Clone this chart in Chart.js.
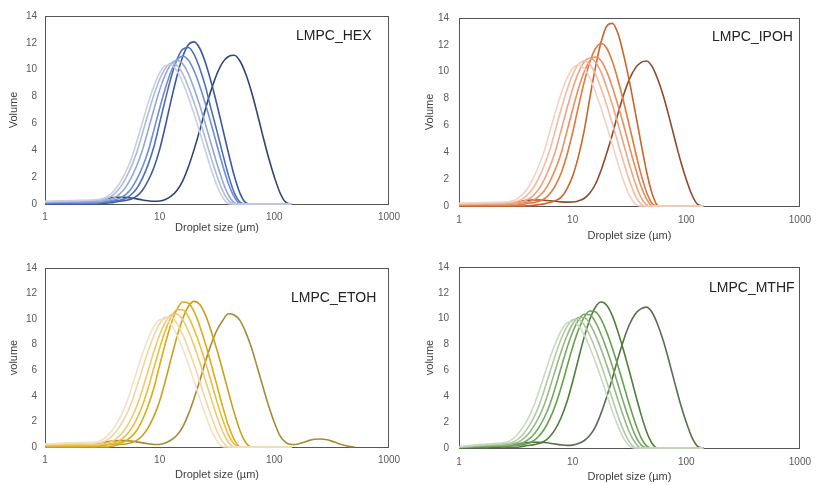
<!DOCTYPE html>
<html>
<head>
<meta charset="utf-8">
<script src="https://cdn.jsdelivr.net/npm/chart.js@4/dist/chart.umd.min.js"></script>
<style>
  html, body { margin: 0; padding: 0; background: #ffffff; }
  .panel { position: absolute; }
</style>
</head>
<body>
<div class="panel" style="left:0px;top:0px"><canvas id="hex" width="410" height="245"></canvas></div>
<div class="panel" style="left:410px;top:0px"><canvas id="ipoh" width="409" height="245"></canvas></div>
<div class="panel" style="left:0px;top:245px"><canvas id="etoh" width="410" height="240"></canvas></div>
<div class="panel" style="left:410px;top:245px"><canvas id="mthf" width="409" height="240"></canvas></div>
<script>
// Droplet size classes (µm), log-spaced
const SIZES = [1, 1.259, 1.585, 1.995, 2.512, 2.818, 3.162, 3.548, 3.981, 4.467,
  5.012, 5.623, 6.31, 7.079, 7.943, 8.913, 10, 11.22, 12.59, 14.13,
  15.85, 17.78, 19.95, 22.39, 25.12, 28.18, 31.62, 35.48, 39.81, 44.67,
  50.12, 56.23, 63.1, 70.79, 79.43, 89.13, 100.2, 112.5, 126.2, 141.6];
// extra coarse classes only measured for the ethanol batch
const ETOH_TAIL_SIZES = [158.5, 177.8, 199.5, 223.9, 251.2, 281.8, 316.2, 354.8, 398.1, 446.7, 501.2];

const X_TICKS = [1, 10, 100, 1000];
const Y_MIN = 0, Y_MAX = 14, Y_STEP = 2;

// ---- LMPC_HEX (volume %) ----
const hex1 = [0.2, 0.22, 0.25, 0.27, 0.3, 0.33, 0.4, 0.59, 0.97, 1.54, 2.31, 3.31, 4.64, 6.09, 7.53, 8.79, 9.77, 10.31, 10.35, 9.92, 9.07, 7.97, 6.7, 5.34, 3.94, 2.58, 1.36, 0.49, 0.03, 0, 0, 0, 0, 0, 0, 0, 0, 0, 0, 0];
const hex2 = [0.18, 0.2, 0.22, 0.24, 0.26, 0.28, 0.3, 0.44, 0.72, 1.17, 1.85, 2.73, 3.84, 5.27, 6.74, 8.14, 9.29, 10.11, 10.48, 10.33, 9.71, 8.72, 7.55, 6.23, 4.82, 3.41, 2.09, 0.98, 0.26, 0, 0, 0, 0, 0, 0, 0, 0, 0, 0, 0];
const hex3 = [0.12, 0.14, 0.15, 0.16, 0.17, 0.18, 0.22, 0.3, 0.45, 0.74, 1.2, 1.92, 2.85, 4.02, 5.52, 7.05, 8.49, 9.64, 10.42, 10.7, 10.44, 9.7, 8.6, 7.33, 5.92, 4.45, 3.0, 1.68, 0.67, 0.1, 0, 0, 0, 0, 0, 0, 0, 0, 0, 0];
const hex4 = [0.08, 0.09, 0.1, 0.1, 0.1, 0.1, 0.15, 0.22, 0.29, 0.42, 0.68, 1.12, 1.83, 2.75, 3.94, 5.52, 7.12, 8.64, 9.87, 10.7, 11.0, 10.73, 9.92, 8.77, 7.42, 5.94, 4.37, 2.86, 1.51, 0.53, 0.02, 0, 0, 0, 0, 0, 0, 0, 0, 0];
const hex5 = [0.05, 0.05, 0.05, 0.05, 0.05, 0.06, 0.1, 0.17, 0.22, 0.28, 0.41, 0.69, 1.16, 1.93, 2.95, 4.28, 6.04, 7.8, 9.44, 10.74, 11.52, 11.65, 11.14, 10.09, 8.72, 7.02, 5.43, 3.73, 2.13, 0.85, 0.14, 0, 0, 0, 0, 0, 0, 0, 0, 0];
const hex6 = [0, 0, 0, 0, 0, 0.02, 0.04, 0.08, 0.12, 0.2, 0.26, 0.36, 0.58, 1.03, 1.75, 2.72, 4.07, 5.83, 7.73, 9.5, 10.95, 11.86, 12.07, 11.58, 10.5, 9.05, 7.39, 5.59, 3.8, 2.12, 0.81, 0.1, 0, 0, 0, 0, 0, 0, 0, 0];
const hex7 = [0, 0, 0, 0.02, 0.1, 0.2, 0.32, 0.42, 0.48, 0.5, 0.49, 0.45, 0.38, 0.3, 0.24, 0.2, 0.22, 0.34, 0.58, 1.0, 1.7, 2.75, 4.05, 5.5, 7.1, 8.5, 9.7, 10.55, 10.98, 11.08, 10.65, 9.7, 8.38, 6.78, 5.07, 3.45, 2.0, 0.8, 0.12, 0];

// ---- LMPC_IPOH ----
const ipoh1 = [0.2, 0.22, 0.25, 0.27, 0.3, 0.34, 0.47, 0.79, 1.26, 2.0, 2.94, 4.1, 5.57, 7.04, 8.4, 9.5, 10.24, 10.5, 10.26, 9.56, 8.51, 7.3, 5.95, 4.54, 3.13, 1.84, 0.79, 0.16, 0, 0, 0, 0, 0, 0, 0, 0, 0, 0, 0, 0];
const ipoh2 = [0.17, 0.19, 0.21, 0.23, 0.25, 0.27, 0.32, 0.49, 0.81, 1.3, 2.05, 3.02, 4.21, 5.72, 7.24, 8.64, 9.77, 10.53, 10.8, 10.55, 9.83, 8.75, 7.51, 6.12, 4.67, 3.22, 1.89, 0.81, 0.16, 0, 0, 0, 0, 0, 0, 0, 0, 0, 0, 0];
const ipoh3 = [0.12, 0.13, 0.14, 0.15, 0.16, 0.19, 0.23, 0.31, 0.46, 0.76, 1.23, 1.97, 2.93, 4.14, 5.68, 7.25, 8.72, 9.91, 10.71, 11.0, 10.74, 9.97, 8.83, 7.54, 6.09, 4.58, 3.08, 1.73, 0.68, 0.1, 0, 0, 0, 0, 0, 0, 0, 0, 0, 0];
const ipoh4 = [0.08, 0.09, 0.1, 0.1, 0.1, 0.12, 0.18, 0.22, 0.29, 0.42, 0.69, 1.13, 1.84, 2.78, 3.97, 5.57, 7.18, 8.71, 9.96, 10.8, 11.1, 10.82, 10.01, 8.85, 7.49, 5.99, 4.41, 2.89, 1.52, 0.53, 0.02, 0, 0, 0, 0, 0, 0, 0, 0, 0];
const ipoh5 = [0.05, 0.05, 0.05, 0.05, 0.05, 0.05, 0.06, 0.1, 0.19, 0.25, 0.34, 0.52, 0.91, 1.55, 2.48, 3.8, 5.47, 7.36, 9.17, 10.68, 11.71, 12.1, 11.75, 10.76, 9.35, 7.73, 5.95, 4.15, 2.43, 1.04, 0.18, 0, 0, 0, 0, 0, 0, 0, 0, 0];
const ipoh6 = [0, 0, 0, 0, 0, 0, 0, 0, 0.02, 0.05, 0.1, 0.16, 0.27, 0.4, 0.66, 1.28, 2.23, 3.66, 5.54, 7.98, 10.28, 12.19, 13.39, 13.6, 12.82, 11.22, 9.28, 7.04, 4.76, 2.59, 0.91, 0.04, 0, 0, 0, 0, 0, 0, 0, 0];
const ipoh7 = [0, 0, 0, 0.02, 0.1, 0.18, 0.28, 0.36, 0.42, 0.45, 0.45, 0.43, 0.39, 0.35, 0.31, 0.29, 0.3, 0.38, 0.56, 0.95, 1.62, 2.65, 3.92, 5.35, 6.9, 8.3, 9.45, 10.25, 10.68, 10.8, 10.38, 9.42, 8.16, 6.6, 4.95, 3.35, 1.95, 0.8, 0.12, 0];

// ---- LMPC_ETOH ----
const etoh1 = [0.25, 0.28, 0.32, 0.35, 0.37, 0.4, 0.57, 0.93, 1.49, 2.23, 3.2, 4.48, 5.89, 7.28, 8.49, 9.44, 9.96, 10.0, 9.59, 8.76, 7.7, 6.48, 5.16, 3.8, 2.49, 1.32, 0.47, 0.03, 0, 0, 0, 0, 0, 0, 0, 0, 0, 0, 0, 0];
const etoh2 = [0.22, 0.24, 0.27, 0.3, 0.32, 0.34, 0.38, 0.61, 0.99, 1.58, 2.35, 3.37, 4.69, 6.12, 7.52, 8.72, 9.64, 10.14, 10.14, 9.67, 8.79, 7.7, 6.45, 5.1, 3.72, 2.4, 1.22, 0.41, 0, 0, 0, 0, 0, 0, 0, 0, 0, 0, 0, 0];
const etoh3 = [0.17, 0.19, 0.2, 0.2, 0.2, 0.22, 0.26, 0.33, 0.52, 0.88, 1.41, 2.19, 3.19, 4.49, 5.98, 7.46, 8.78, 9.77, 10.35, 10.4, 9.95, 9.07, 7.93, 6.63, 5.2, 3.76, 2.38, 1.18, 0.37, 0, 0, 0, 0, 0, 0, 0, 0, 0, 0, 0];
const etoh4 = [0.1, 0.11, 0.12, 0.12, 0.13, 0.16, 0.19, 0.24, 0.32, 0.5, 0.85, 1.4, 2.2, 3.26, 4.62, 6.21, 7.75, 9.12, 10.16, 10.73, 10.73, 10.2, 9.2, 7.97, 6.58, 5.08, 3.53, 2.13, 0.95, 0.24, 0, 0, 0, 0, 0, 0, 0, 0, 0, 0];
const etoh5 = [0.05, 0.05, 0.05, 0.05, 0.05, 0.05, 0.1, 0.18, 0.23, 0.31, 0.46, 0.79, 1.29, 2.13, 3.24, 4.63, 6.4, 8.12, 9.63, 10.76, 11.34, 11.27, 10.6, 9.45, 8.04, 6.46, 4.8, 3.14, 1.66, 0.58, 0.02, 0, 0, 0, 0, 0, 0, 0, 0, 0];
const etoh6 = [0, 0, 0, 0, 0, 0, 0, 0, 0.1, 0.19, 0.24, 0.34, 0.52, 0.9, 1.52, 2.41, 3.6, 5.18, 6.91, 8.6, 10.01, 10.99, 11.39, 11.15, 10.31, 9.04, 7.58, 5.97, 4.29, 2.68, 1.29, 0.35, 0, 0, 0, 0, 0, 0, 0, 0];
const etoh7 = [0, 0, 0, 0.02, 0.12, 0.22, 0.33, 0.42, 0.47, 0.5, 0.5, 0.47, 0.4, 0.32, 0.25, 0.2, 0.2, 0.32, 0.55, 0.92, 1.55, 2.55, 3.8, 5.2, 6.7, 8.05, 9.15, 9.9, 10.42, 10.32, 9.9, 8.98, 7.78, 6.28, 4.73, 3.23, 1.9, 0.85, 0.35, 0.2];
const etoh7Tail = [0.22, 0.35, 0.5, 0.6, 0.62, 0.58, 0.46, 0.3, 0.15, 0.05, 0];

// ---- LMPC_MTHF ----
const mthf1 = [0.1, 0.2, 0.28, 0.34, 0.42, 0.57, 0.91, 1.45, 2.14, 3.08, 4.27, 5.61, 6.96, 8.12, 9.08, 9.67, 9.78, 9.48, 8.77, 7.79, 6.66, 5.43, 4.13, 2.84, 1.67, 0.72, 0.15, 0, 0, 0, 0, 0, 0, 0, 0, 0, 0, 0, 0, 0];
const mthf2 = [0.08, 0.15, 0.22, 0.28, 0.32, 0.38, 0.57, 0.93, 1.48, 2.22, 3.18, 4.46, 5.86, 7.24, 8.45, 9.39, 9.91, 9.95, 9.54, 8.72, 7.66, 6.45, 5.13, 3.78, 2.48, 1.31, 0.47, 0.03, 0, 0, 0, 0, 0, 0, 0, 0, 0, 0, 0, 0];
const mthf3 = [0.06, 0.12, 0.18, 0.22, 0.26, 0.29, 0.38, 0.61, 0.98, 1.57, 2.33, 3.35, 4.67, 6.09, 7.48, 8.68, 9.59, 10.09, 10.09, 9.62, 8.75, 7.66, 6.41, 5.08, 3.7, 2.39, 1.22, 0.41, 0, 0, 0, 0, 0, 0, 0, 0, 0, 0, 0, 0];
const mthf4 = [0.05, 0.1, 0.14, 0.17, 0.2, 0.22, 0.26, 0.36, 0.59, 0.97, 1.55, 2.34, 3.39, 4.75, 6.26, 7.72, 8.95, 9.88, 10.35, 10.3, 9.76, 8.8, 7.63, 6.3, 4.89, 3.46, 2.12, 0.99, 0.26, 0, 0, 0, 0, 0, 0, 0, 0, 0, 0, 0];
const mthf5 = [0.04, 0.08, 0.12, 0.14, 0.15, 0.16, 0.19, 0.24, 0.34, 0.52, 0.89, 1.45, 2.27, 3.34, 4.72, 6.26, 7.8, 9.11, 10.09, 10.6, 10.54, 9.97, 8.96, 7.71, 6.32, 4.84, 3.34, 1.97, 0.84, 0.16, 0, 0, 0, 0, 0, 0, 0, 0, 0, 0];
const mthf6 = [0.02, 0.05, 0.08, 0.1, 0.08, 0.06, 0.05, 0.1, 0.19, 0.24, 0.34, 0.52, 0.89, 1.5, 2.38, 3.57, 5.13, 6.85, 8.52, 9.92, 10.89, 11.29, 11.05, 10.22, 8.96, 7.51, 5.92, 4.25, 2.66, 1.28, 0.35, 0, 0, 0, 0, 0, 0, 0, 0, 0];
const mthf7 = [0, 0, 0, 0.02, 0.1, 0.18, 0.28, 0.36, 0.42, 0.45, 0.45, 0.42, 0.37, 0.3, 0.24, 0.2, 0.22, 0.34, 0.56, 0.96, 1.64, 2.68, 3.97, 5.4, 6.97, 8.38, 9.55, 10.35, 10.76, 10.9, 10.48, 9.52, 8.24, 6.67, 5.0, 3.38, 1.97, 0.8, 0.12, 0];

// line colours, lightest sample first
const HEX_COLORS  = ['#c8cfe1', '#afbbd9', '#93a7d6', '#6f8dd0', '#4d6fc2', '#3b58a3', '#2f4472'];
const IPOH_COLORS = ['#f2d2c6', '#f0bca3', '#eda584', '#ea8f5c', '#e0793a', '#c9652a', '#8c4b2c'];
const ETOH_COLORS = ['#f1e1c9', '#f1d6a2', '#eecb72', '#e8be3e', '#ddab14', '#c9a01c', '#a58b36'];
const MTHF_COLORS = ['#cbd9c3', '#b3c9a7', '#99b88b', '#7ca76a', '#68a04b', '#4f7e3d', '#56704d'];

const FONT = '"Liberation Sans", Arial, sans-serif';

function checkLength(name, arr, n) {
  if (arr.length !== n) throw new Error(name + ' has ' + arr.length + ' values, expected ' + n);
}

function pairs(xs, ys) {
  return xs.map((x, i) => ({ x: x, y: ys[i] }));
}

const framePlugin = {
  id: 'frame',
  beforeDatasetsDraw(chart) {
    const a = chart.chartArea, ctx = chart.ctx;
    ctx.save();
    ctx.strokeStyle = '#555555';
    ctx.lineWidth = 1;
    ctx.strokeRect(Math.round(a.left) + 0.5, Math.round(a.top) + 0.5,
                   Math.round(a.right - a.left) - 1, Math.round(a.bottom - a.top));
    ctx.restore();
  }
};

const tagPlugin = {
  id: 'tag',
  afterDatasetsDraw(chart, args, opts) {
    const ctx = chart.ctx;
    ctx.save();
    ctx.font = '14px ' + FONT;
    ctx.fillStyle = '#222222';
    ctx.textBaseline = 'middle';
    ctx.textAlign = 'left';
    ctx.fillText(opts.text, opts.x, opts.y);
    ctx.restore();
  }
};

function makePanel(p) {
  const canvas = document.getElementById(p.id);
  const W = canvas.width, H = canvas.height;
  const datasets = p.series.map((s, i) => {
    checkLength(p.id + ' series ' + (i + 1), s.values, s.sizes.length);
    return {
      data: pairs(s.sizes, s.values),
      borderColor: p.colors[i],
      backgroundColor: p.colors[i],
      borderWidth: 1.6,
      pointRadius: 0,
      fill: false,
      cubicInterpolationMode: 'monotone',
      clip: 3
    };
  });
  return new Chart(canvas, {
    type: 'line',
    data: { datasets: datasets },
    plugins: [framePlugin, tagPlugin],
    options: {
      responsive: false,
      animation: false,
      devicePixelRatio: 1,
      layout: { padding: { top: p.box.top, right: W - p.box.right, left: 0, bottom: 0 } },
      plugins: {
        legend: { display: false },
        tooltip: { enabled: false },
        tag: { text: p.tag, x: p.tagAt[0], y: p.tagAt[1] }
      },
      scales: {
        x: {
          type: 'logarithmic',
          min: X_TICKS[0],
          max: X_TICKS[X_TICKS.length - 1],
          grid: { display: false, drawTicks: false },
          border: { display: false },
          afterBuildTicks: (scale) => { scale.ticks = X_TICKS.map(v => ({ value: v })); },
          afterFit: (scale) => { scale.height = H - p.box.bottom; },
          ticks: {
            autoSkip: false, maxRotation: 0, padding: p.xTickPad,
            color: '#595959', font: { family: FONT, size: 10 },
            callback: (v) => String(v)
          },
          title: {
            display: true, text: 'Droplet size (µm)', color: '#404040',
            font: { family: FONT, size: 11 }, padding: { top: 0, bottom: p.xTitlePad }
          }
        },
        y: {
          min: Y_MIN, max: Y_MAX,
          grid: { display: false, drawTicks: false },
          border: { display: false },
          afterFit: (scale) => { scale.width = p.box.left; },
          ticks: {
            stepSize: Y_STEP, padding: p.yTickPad,
            color: '#595959', font: { family: FONT, size: 10 }
          },
          title: {
            display: true, text: p.yTitle, color: '#404040',
            font: { family: FONT, size: 11 }, padding: { top: p.yTitlePad, bottom: 0 }
          }
        }
      }
    }
  });
}

const onGrid = (v) => ({ sizes: SIZES, values: v });

makePanel({
  id: 'hex', tag: 'LMPC_HEX', yTitle: 'Volume', colors: HEX_COLORS,
  series: [hex1, hex2, hex3, hex4, hex5, hex6, hex7].map(onGrid),
  box: { left: 45, top: 16, right: 389, bottom: 204 },
  tagAt: [296, 36], xTickPad: 7, xTitlePad: 10, yTickPad: 8, yTitlePad: 7
});
makePanel({
  id: 'ipoh', tag: 'LMPC_IPOH', yTitle: 'Volume', colors: IPOH_COLORS,
  series: [ipoh1, ipoh2, ipoh3, ipoh4, ipoh5, ipoh6, ipoh7].map(onGrid),
  box: { left: 49, top: 18, right: 396, bottom: 206 },
  tagAt: [302, 37], xTickPad: 8, xTitlePad: 2, yTickPad: 10, yTitlePad: 13
});
makePanel({
  id: 'etoh', tag: 'LMPC_ETOH', yTitle: 'volume', colors: ETOH_COLORS,
  series: [etoh1, etoh2, etoh3, etoh4, etoh5, etoh6].map(onGrid).concat([
    { sizes: SIZES.concat(ETOH_TAIL_SIZES), values: etoh7.concat(etoh7Tail) }
  ]),
  box: { left: 45, top: 23, right: 389, bottom: 202 },
  tagAt: [291, 53], xTickPad: 7, xTitlePad: 3, yTickPad: 8, yTitlePad: 7
});
makePanel({
  id: 'mthf', tag: 'LMPC_MTHF', yTitle: 'volume', colors: MTHF_COLORS,
  series: [mthf1, mthf2, mthf3, mthf4, mthf5, mthf6, mthf7].map(onGrid),
  box: { left: 49, top: 22, right: 396, bottom: 203 },
  tagAt: [299, 43], xTickPad: 8, xTitlePad: 1, yTickPad: 10, yTitlePad: 13
});
</script>
</body>
</html>
